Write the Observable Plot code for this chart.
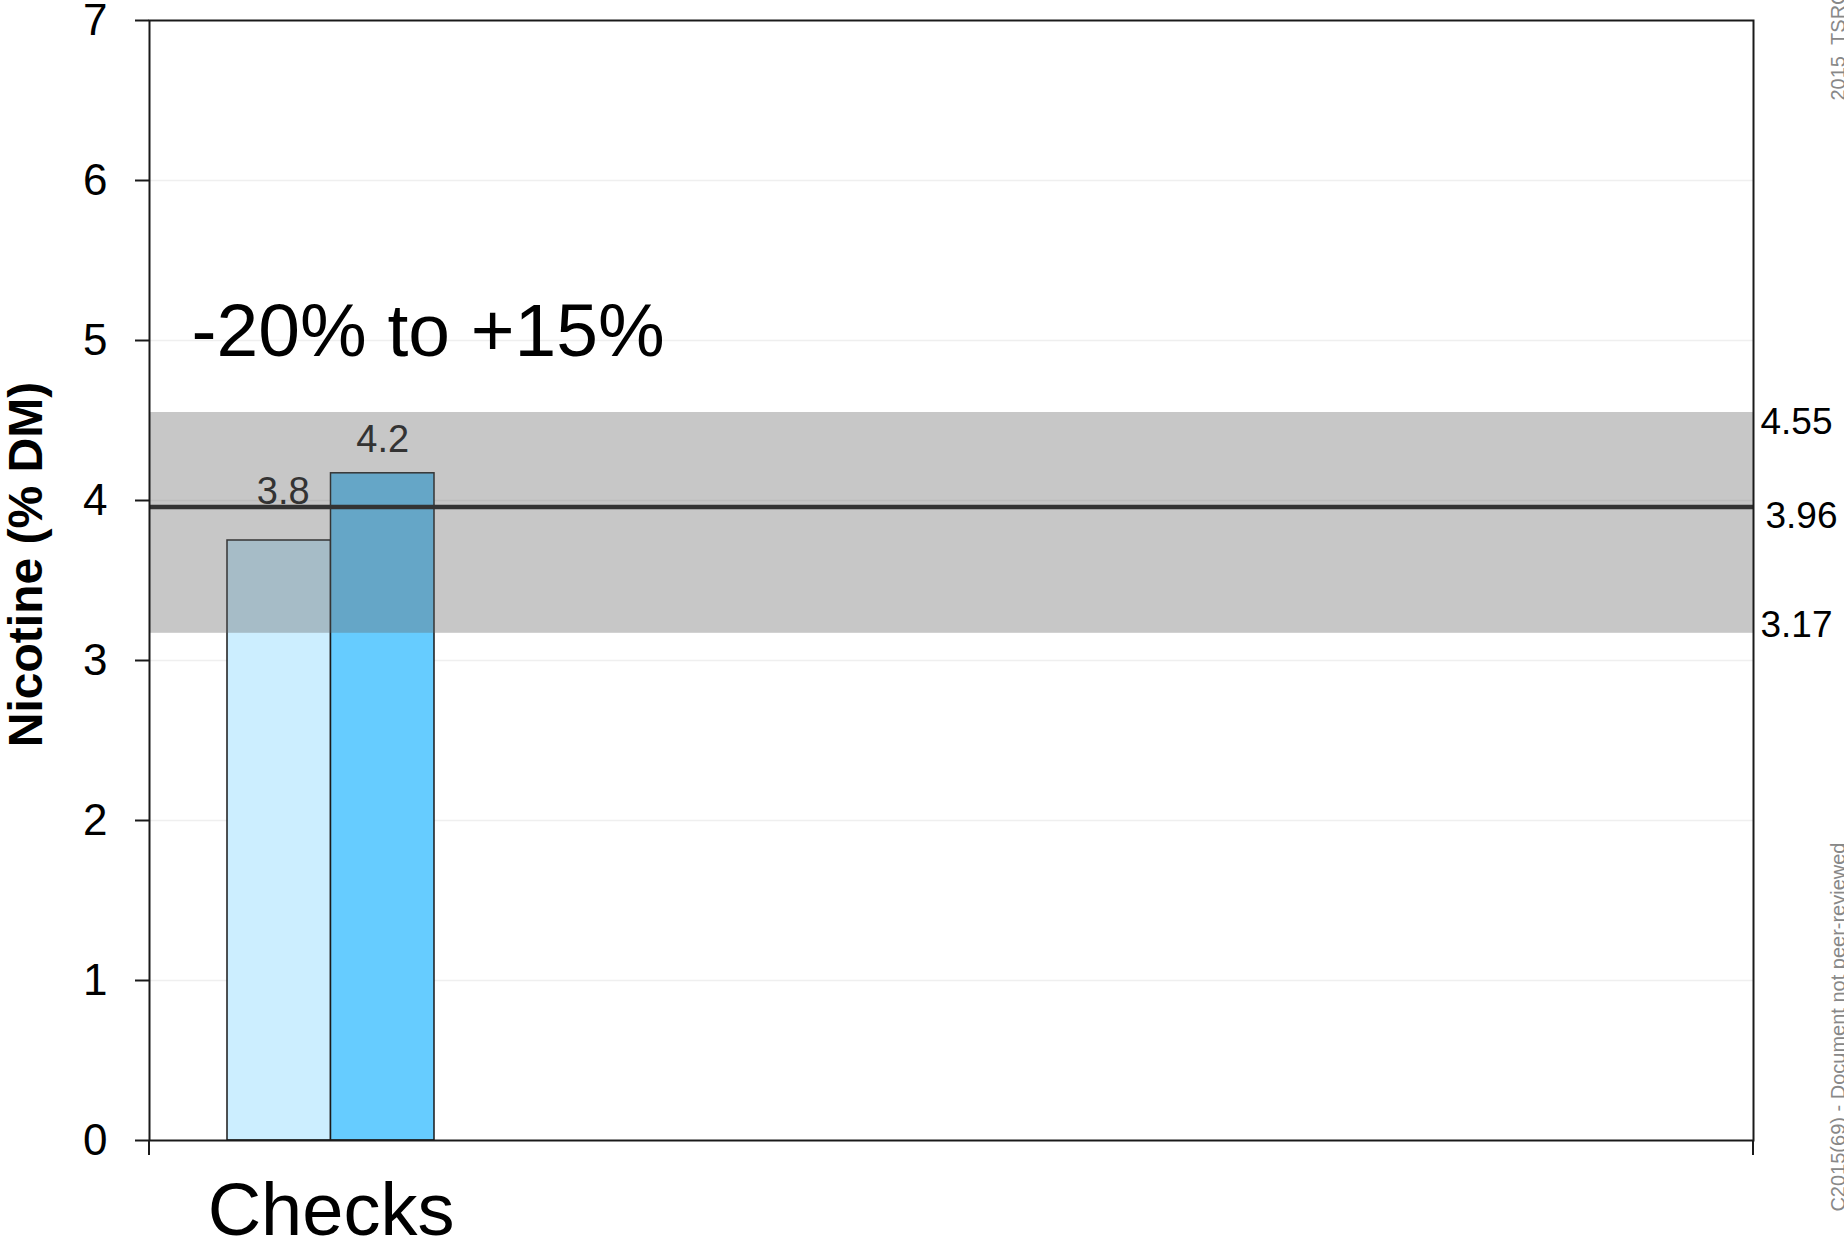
<!DOCTYPE html>
<html>
<head>
<meta charset="utf-8">
<script src="https://cdn.jsdelivr.net/npm/d3@7"></script>
<script src="https://cdn.jsdelivr.net/npm/@observablehq/plot@0.6"></script>
<style>
  html, body { margin: 0; padding: 0; background: #fff; }
  #chart svg { display: block; }
</style>
</head>
<body>
<div id="chart"></div>
<script>
// Nicotine content of the check samples against the target band.
const categories = ["Checks"];
const seriesKeys = ["first", "second"];
const barValues = [3.75, 4.17];
const seriesColors = ["#cceeff", "#66ccff"];

const targetValue = 3.96;
const toleranceLow = 3.17;
const toleranceHigh = 4.55;
const toleranceText = "-20% to +15%";

const yTicks = [0, 1, 2, 3, 4, 5, 6, 7];
const yLabel = "Nicotine (% DM)";
const footerTop = "2015_TSRC2015(69)";
const footerBottom = "C2015(69) - Document not peer-reviewed";

const bars = categories.flatMap(category =>
  seriesKeys.map((series, i) => ({category, series, value: barValues[i]}))
);

const font = "'Liberation Sans', Arial, Helvetica, sans-serif";
const groupLeft = 227, groupRight = 434;
const halfBand = (groupRight - groupLeft) / 2;
const ink = "#1a1a1a";

// small tick marks hanging below the category axis at both frame edges
function edgeTicks(index, scales, values, dim) {
  const g = d3.create("svg:g").attr("stroke", ink).attr("stroke-width", 2);
  const yb = dim.height - dim.marginBottom;
  for (const x of [dim.marginLeft, dim.width - dim.marginRight]) {
    g.append("line").attr("x1", x).attr("x2", x).attr("y1", yb).attr("y2", yb + 15);
  }
  return g.node();
}

const chart = Plot.plot({
  width: 1844,
  height: 1239,
  marginLeft: 149,
  marginRight: 91,
  marginTop: 20,
  marginBottom: 99,
  style: {fontFamily: font, background: "#fff", color: "#000", overflow: "visible"},
  x: {domain: categories, range: [groupLeft, groupRight], padding: 0},
  y: {domain: [0, 7]},
  marks: [
    Plot.ruleY(yTicks.filter(t => t > 0 && t < 7), {stroke: "#efefef", strokeWidth: 1.5}),
    Plot.barY(bars.filter(d => d.series === seriesKeys[0]), {
      x: "category", y: "value", fill: seriesColors[0],
      stroke: ink, strokeWidth: 1.5, insetRight: halfBand
    }),
    Plot.barY(bars.filter(d => d.series === seriesKeys[1]), {
      x: "category", y: "value", fill: seriesColors[1],
      stroke: ink, strokeWidth: 1.5, insetLeft: halfBand
    }),
    // tolerance band laid over the bars
    Plot.rect([{lo: toleranceLow, hi: toleranceHigh}], {
      y1: "lo", y2: "hi", fill: "#666666", fillOpacity: 0.366
    }),
    Plot.ruleY([targetValue], {stroke: "#333", strokeWidth: 4.5}),
    // bar value labels
    Plot.text(bars.filter(d => d.series === seriesKeys[0]), {
      x: "category", y: "value", text: d => d.value.toFixed(1),
      lineAnchor: "bottom", dx: -halfBand / 2 + 4, dy: -37, fontSize: 38, fill: "#333"
    }),
    Plot.text(bars.filter(d => d.series === seriesKeys[1]), {
      x: "category", y: "value", text: d => d.value.toFixed(1),
      lineAnchor: "bottom", dx: halfBand / 2, dy: -21, fontSize: 38, fill: "#333"
    }),
    // band limits and target on the right
    Plot.text([toleranceHigh], {
      y: d => d, text: d => d.toFixed(2), frameAnchor: "right",
      textAnchor: "start", dx: 7, dy: 10, fontSize: 37, fill: "#000"
    }),
    Plot.text([targetValue], {
      y: d => d, text: d => d.toFixed(2), frameAnchor: "right",
      textAnchor: "start", dx: 12, dy: 9, fontSize: 37, fill: "#000"
    }),
    Plot.text([toleranceLow], {
      y: d => d, text: d => d.toFixed(2), frameAnchor: "right",
      textAnchor: "start", dx: 7, dy: -8, fontSize: 37, fill: "#000"
    }),
    Plot.text([toleranceText], {
      text: d => d, frameAnchor: "top-left", textAnchor: "start",
      lineAnchor: "bottom", dx: 42, dy: 335, fontSize: 75, fill: "#000"
    }),
    Plot.text([yLabel], {
      text: d => d, frameAnchor: "left", rotate: -90,
      textAnchor: "middle", lineAnchor: "middle",
      dx: -123, dy: -16, fontSize: 48, fontWeight: "bold", fill: "#000"
    }),
    Plot.text([footerTop], {
      text: d => d, frameAnchor: "top-right", rotate: -90, textAnchor: "start",
      lineAnchor: "bottom", dx: 91, dy: 80, fontSize: 20, fill: "#888"
    }),
    Plot.text([footerBottom], {
      text: d => d, frameAnchor: "top-right", rotate: -90, textAnchor: "end",
      lineAnchor: "bottom", dx: 91, dy: 822, fontSize: 20, fill: "#888"
    }),
    Plot.frame({stroke: ink, strokeWidth: 2}),
    Plot.axisY(yTicks, {
      tickSize: 14, tickPadding: 28, fontSize: 44, label: null,
      tickFormat: d => String(d), stroke: ink, strokeWidth: 2, fill: "#000"
    }),
    Plot.axisX({tickSize: 0, tickPadding: 42, fontSize: 74, label: null, fill: "#000"}),
    edgeTicks
  ]
});

document.getElementById("chart").appendChild(chart);
</script>
</body>
</html>
